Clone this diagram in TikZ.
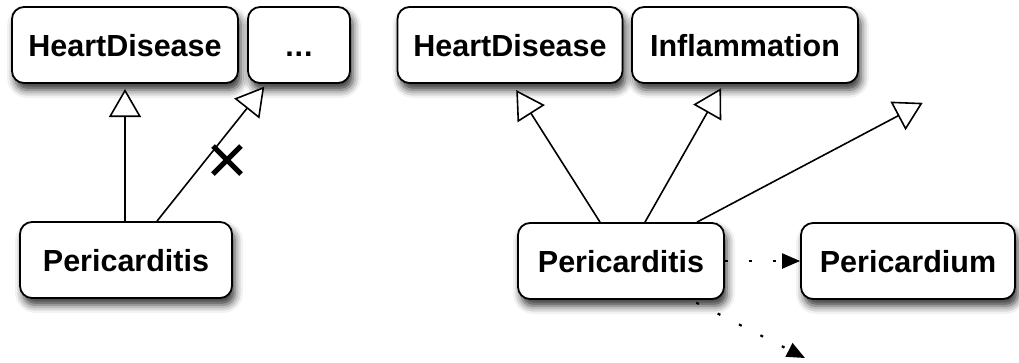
\documentclass[tikz,border=0pt]{standalone}
\usepackage{fontspec}
\setmainfont{Liberation Sans}
\usetikzlibrary{arrows.meta,shadows.blur}
\begin{document}
\begin{tikzpicture}[x=1pt,y=-1pt,
  concept/.style={draw=black, line width=1.8pt, rounded corners=12pt, fill=white,
    blur shadow={shadow xshift=3pt, shadow yshift=-7pt, shadow blur radius=8pt, shadow opacity=80},
    font=\fontsize{30.5}{36}\selectfont\bfseries, inner sep=0pt, text height=22pt, text depth=0pt},
  isa/.style={line width=1.6pt, -{Triangle[length=28pt, width=32pt, fill=white, line width=1.6pt]}, shorten >=6pt},
  rel/.style={line width=2.2pt, dash pattern=on 3pt off 21pt, -{Triangle[length=18pt, width=15pt, fill=black]}},
  crossmark/.style={line width=5pt}
]
\useasboundingbox (0,0) rectangle (1019,362);

% left part
\node[concept, minimum width=226pt, minimum height=76pt] (hd1) at (125,45) {HeartDisease};
\node[concept, minimum width=102pt, minimum height=76pt] (etc) at (299,45) {.\kern1pt.\kern1pt.};
\node[concept, minimum width=212pt, minimum height=76pt] (per1) at (126,260) {Pericarditis};

\draw[isa] (per1.north -| 125,0) -- (125,83);
\draw[isa] ([xshift=31pt]per1.north) -- (268,82);
\draw[crossmark] (213,146) -- (241,174);
\draw[crossmark] (213,174) -- (241,146);

% right part
\node[concept, minimum width=225pt, minimum height=76pt] (hd2) at (510,45) {HeartDisease};
\node[concept, minimum width=226pt, minimum height=76pt] (inf) at (745,45) {Inflammation};
\node[concept, minimum width=206pt, minimum height=76pt] (per2) at (621,261) {Pericarditis};
\node[concept, minimum width=214pt, minimum height=76pt] (pcd) at (908,261) {Pericardium};

\coordinate (hidden) at (928,100);
\coordinate (below) at (805,358);

\draw[isa] ([xshift=-21pt]per2.north) -- (513,85);
\draw[isa] ([xshift=24pt]per2.north) -- (724,83);
\draw[isa] ([xshift=76pt]per2.north) -- (hidden);
\draw[rel, dash phase=0pt] (per2.east) -- (pcd.west);
\draw[rel, dash phase=-6pt] ([xshift=-34pt]per2.south east) -- (below);
\end{tikzpicture}
\end{document}
